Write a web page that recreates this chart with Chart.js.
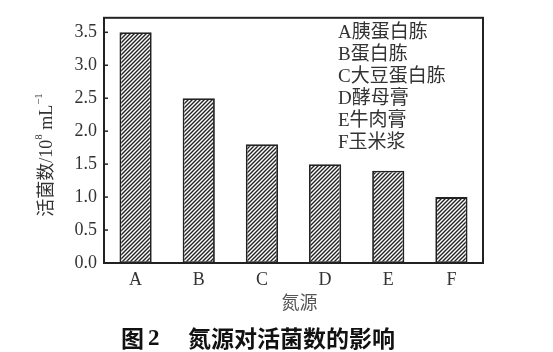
<!DOCTYPE html>
<html>
<head>
<meta charset="utf-8">
<script src="https://cdn.jsdelivr.net/npm/chart.js@4.4.0/dist/chart.umd.min.js"></script>
<style>
  html, body { margin: 0; padding: 0; background: #fff; }
  #wrap { width: 553px; height: 352px; position: relative; }
</style>
</head>
<body>
<div id="wrap"><canvas id="chart"></canvas></div>
<script>
var categories = ['A', 'B', 'C', 'D', 'E', 'F'];
var sourceNames = ['胰蛋白胨', '蛋白胨', '大豆蛋白胨', '酵母膏', '牛肉膏', '玉米浆'];
var cellCounts = [3.5, 2.5, 1.8, 1.5, 1.4, 1.0];
var yTicks = [0, 0.5, 1.0, 1.5, 2.0, 2.5, 3.0, 3.5];

var serif = '"Liberation Serif", "Noto Sans CJK SC", serif';
var cjk = '"Liberation Serif", "Noto Sans CJK SC", sans-serif';

// hatch fill like the printed figure
function makeHatch() {
    var c = document.createElement('canvas');
    c.width = 4; c.height = 4;
    var g = c.getContext('2d');
    g.fillStyle = '#fff';
    g.fillRect(0, 0, 4, 4);
    g.strokeStyle = '#222';
    g.lineWidth = 1.4;
    g.beginPath();
    g.moveTo(-1, 5); g.lineTo(5, -1);
    g.moveTo(-1, 1); g.lineTo(1, -1);
    g.moveTo(3, 5); g.lineTo(5, 3);
    g.stroke();
    return g.createPattern(c, 'repeat');
}

var extras = {
    id: 'extras',
    afterDraw: function(chart) {
        var ctx = chart.ctx;
        var a = chart.chartArea;
        var y = chart.scales.y;
        ctx.save();

        // frame
        ctx.strokeStyle = '#222';
        ctx.lineWidth = 2;
        ctx.strokeRect(a.left, a.top, a.right - a.left, a.bottom - a.top);

        // inward ticks on the left axis
        ctx.lineWidth = 1.5;
        yTicks.forEach(function(v) {
            var py = y.getPixelForValue(v);
            ctx.beginPath();
            ctx.moveTo(a.left, py);
            ctx.lineTo(a.left + 4, py);
            ctx.stroke();
        });

        // legend text
        ctx.fillStyle = '#333';
        ctx.font = '19px ' + cjk;
        ctx.textAlign = 'left';
        ctx.textBaseline = 'middle';
        categories.forEach(function(c, i) {
            ctx.fillText(c + sourceNames[i], 338, 33 + i * 22);
        });

        // x axis title
        ctx.fillStyle = '#555';
        ctx.font = '18px ' + cjk;
        ctx.textAlign = 'center';
        ctx.fillText('氮源', (a.left + a.right) / 2 + 6, 304);

        // y axis title with superscripts
        ctx.save();
        ctx.translate(47, 155);
        ctx.rotate(-Math.PI / 2);
        ctx.fillStyle = '#333';
        var parts = [
            { t: '活菌数/10', f: '18px ' + cjk, dy: 0 },
            { t: '8', f: '11px ' + serif, dy: -8 },
            { t: ' mL', f: '18px ' + serif, dy: 0 },
            { t: '−1', f: '11px ' + serif, dy: -8 }
        ];
        var total = 0;
        parts.forEach(function(p) { ctx.font = p.f; total += ctx.measureText(p.t).width; });
        var x = -total / 2;
        ctx.textAlign = 'left';
        parts.forEach(function(p) {
            ctx.font = p.f;
            ctx.fillText(p.t, x, p.dy);
            x += ctx.measureText(p.t).width;
        });
        ctx.restore();

        // caption
        ctx.fillStyle = '#111';
        ctx.textAlign = 'left';
        ctx.font = 'bold 23px "Noto Sans CJK SC", sans-serif';
        ctx.fillText('图', 121, 338);
        ctx.font = 'bold 23px "Liberation Serif", serif';
        ctx.fillText('2', 148, 339);
        ctx.font = 'bold 23px "Noto Sans CJK SC", sans-serif';
        ctx.fillText('氮源对活菌数的影响', 188, 338);

        ctx.restore();
    }
};

new Chart(document.getElementById('chart'), {
    type: 'bar',
    data: {
        labels: categories,
        datasets: [{
            data: cellCounts,
            backgroundColor: makeHatch(),
            borderColor: '#222',
            borderWidth: 1.8,
            borderSkipped: false,
            categoryPercentage: 1,
            barPercentage: 0.51
        }]
    },
    options: {
        responsive: true,
        maintainAspectRatio: false,
        animation: false,
        devicePixelRatio: 1,
        layout: { padding: { left: 0, top: 14, right: 70, bottom: 0 } },
        plugins: { legend: { display: false }, tooltip: { enabled: false } },
        scales: {
            x: {
                grid: { display: false, drawTicks: false },
                border: { display: false },
                ticks: { color: '#333', font: { family: serif, size: 18 }, padding: 6 },
                afterFit: function(s) { s.height = 89; }
            },
            y: {
                min: 0,
                max: 3.72,
                grid: { display: false, drawTicks: false },
                border: { display: false },
                ticks: {
                    color: '#333',
                    font: { family: serif, size: 18 },
                    padding: 7,
                    callback: function(v) { return v.toFixed(1); }
                },
                afterBuildTicks: function(s) {
                    s.ticks = yTicks.map(function(v) { return { value: v }; });
                },
                afterFit: function(s) { s.width = 104; }
            }
        }
    },
    plugins: [extras]
});
</script>
</body>
</html>
